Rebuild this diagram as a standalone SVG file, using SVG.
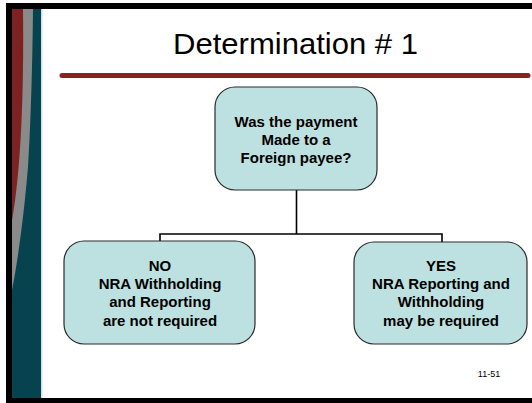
<svg xmlns="http://www.w3.org/2000/svg" width="532" height="403" viewBox="0 0 532 403">
<style>
.box{fill:#bde1e1;stroke:#2a2a2a;stroke-width:1.2}
.t{font-family:"Liberation Sans",Arial,sans-serif;font-weight:bold;font-size:15px;fill:#000;text-anchor:middle}
.conn{fill:none;stroke:#000;stroke-width:1.6}
</style>
<rect x="0" y="0" width="532" height="403" fill="#fff"/>
<g id="frame">
<rect x="6" y="3" width="526" height="6" fill="#000"/>
<rect x="6" y="3" width="6" height="400" fill="#000"/>
<rect x="6" y="398" width="526" height="5" fill="#000"/>
<rect x="12" y="9" width="30" height="389" fill="#8a8a8a"/>
<path d="M12,9 L23,9 C24,90 21,170 12,220 Z" fill="#7c2222"/>
<path d="M33,9 L41,9 L41,398 L12,398 L12,290 C18,260 24,215 28,167 C31,120 32.5,60 33,9 Z" fill="#06434e"/>
<rect x="41" y="9" width="1.5" height="389" fill="#cfe3e6"/>
</g>
<g id="title">
<text x="295.5" y="53.5" font-family="'Liberation Sans',Arial,sans-serif" font-size="29" text-anchor="middle" textLength="245" lengthAdjust="spacingAndGlyphs">Determination # 1</text>
<line x1="62" y1="75.5" x2="528" y2="75.5" stroke="#862424" stroke-width="5" stroke-linecap="round"/>
</g>
<g id="connectors">
<path class="conn" d="M296.5,190 V234 M160,241 V234 H442 V242"/>
</g>
<g id="q">
<rect class="box" x="215" y="87" width="162" height="103" rx="20"/>
<text class="t" x="296" y="127">Was the payment</text>
<text class="t" x="296" y="145">Made to a</text>
<text class="t" x="296" y="162.5">Foreign payee?</text>
</g>
<g id="no">
<rect class="box" x="64" y="241" width="191" height="103" rx="20"/>
<text class="t" x="160" y="270.5">NO</text>
<text class="t" x="160" y="289">NRA Withholding</text>
<text class="t" x="160" y="307">and Reporting</text>
<text class="t" x="160" y="325.5">are not required</text>
</g>
<g id="yes">
<rect class="box" x="354" y="242" width="173" height="102" rx="20"/>
<text class="t" x="441" y="270.5">YES</text>
<text class="t" x="441" y="289">NRA Reporting and</text>
<text class="t" x="441" y="307">Withholding</text>
<text class="t" x="441" y="325.5">may be required</text>
</g>
<text x="489" y="377" font-family="'Liberation Sans',Arial,sans-serif" font-size="9" text-anchor="middle">11-51</text>
</svg>
